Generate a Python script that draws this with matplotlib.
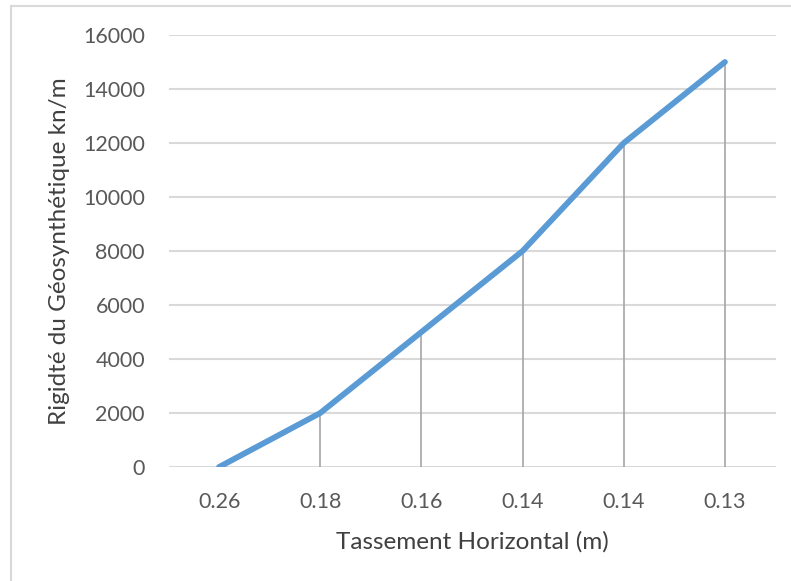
import matplotlib
matplotlib.use("Agg")
import matplotlib.pyplot as plt
from matplotlib.lines import Line2D

# Data
settlements = ["0.26", "0.18", "0.16", "0.14", "0.14", "0.13"]
stiffness = [0, 2000, 5000, 8000, 12000, 15000]
y_ticks = [0, 2000, 4000, 6000, 8000, 10000, 12000, 14000, 16000]

plt.rcParams["font.family"] = ["Lato", "DejaVu Sans"]

W, H = 791, 581
fig = plt.figure(figsize=(W / 100, H / 100), dpi=100)
ax = fig.add_axes([168.5 / W, 1 - 467 / H, (775.5 - 168.5) / W, (467 - 35) / H])

x = list(range(len(settlements)))

# Drop lines from each point down to the category axis
ax.vlines(x, 0, stiffness, colors="#a5a5a5", linewidth=1.2, zorder=2)

ax.plot(x, stiffness, color="#5b9bd5", linewidth=4.2,
        solid_capstyle="round", solid_joinstyle="round", zorder=3)

ax.set_xlim(-0.5, len(settlements) - 0.5)
ax.set_ylim(0, 16000)
ax.set_yticks(y_ticks)
ax.set_yticklabels([str(v) for v in y_ticks])
ax.set_xticks(x)
ax.set_xticklabels(settlements)

ax.yaxis.grid(True, color="#d9d9d9", linewidth=1.5, zorder=0)
ax.set_axisbelow(True)
for s in ax.spines.values():
    s.set_visible(False)
ax.tick_params(axis="both", length=0, labelsize=15.5, colors="#595959")
ax.tick_params(axis="y", pad=17)
ax.tick_params(axis="x", pad=18)

ax.set_xlabel("Tassement Horizontal (m)", fontsize=17.5, color="#404040", labelpad=14)
ax.set_ylabel("Rigidté du Géosynthétique kn/m", fontsize=17.5, color="#404040", labelpad=9)

# Chart area border
fig.add_artist(Line2D([11 / W, 1], [1 - 6 / H, 1 - 6 / H], transform=fig.transFigure,
                      color="#d9d9d9", linewidth=1.5))
fig.add_artist(Line2D([11 / W, 11 / W], [1 - 6 / H, 0], transform=fig.transFigure,
                      color="#d9d9d9", linewidth=1.5))

fig.savefig("out.png", dpi=100)
